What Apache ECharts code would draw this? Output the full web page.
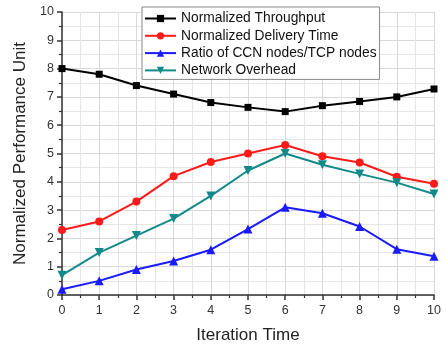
<!DOCTYPE html>
<html><head><meta charset="utf-8">
<script src="https://cdn.jsdelivr.net/npm/echarts@6/dist/echarts.min.js"></script>
<style>html,body{margin:0;padding:0;background:#fff}#c{width:446px;height:349px}</style>
</head><body><div id="c"></div>
<script>
var categories = [0,1,2,3,4,5,6,7,8,9,10];
var throughput = [8.0,7.8,7.4,7.1,6.8,6.63,6.48,6.69,6.84,7.0,7.28];
var deliveryTime = [2.3,2.6,3.3,4.2,4.7,5.0,5.3,4.9,4.68,4.18,3.93];
var ratioCCN = [0.2,0.5,0.9,1.2,1.6,2.33,3.1,2.89,2.42,1.62,1.37];
var overhead = [0.7,1.5,2.1,2.7,3.5,4.4,5.0,4.6,4.28,3.97,3.57];
var seriesNames = ['Normalized Throughput','Normalized Delivery Time','Ratio of CCN nodes/TCP nodes','Network Overhead'];

function pairs(arr){ return categories.map(function(c,i){ return [c, arr[i]]; }); }
var chart = echarts.init(document.getElementById('c'), null, {renderer:'canvas'});
var font = 'Arial, "Liberation Sans", sans-serif';
var axisCol = '#333';
function mk(name, data, color, symbol, size, rot){
  return {name:name, type:'line', data:pairs(data), symbol:symbol, symbolSize:size, symbolRotate:rot||0,
    lineStyle:{color:color,width:2}, itemStyle:{color:color}, z:3};
}
chart.setOption({
  animation:false,
  backgroundColor:'#fff',
  grid:{left:62, right:12, top:12, bottom:52},
  legend:{
    left:142, top:7, orient:'vertical', itemWidth:31, itemHeight:9, itemGap:3.3,
    backgroundColor:'#fff', borderColor:'#888', borderWidth:1, padding:[4.5,3,2,2],
    textStyle:{fontFamily:font, fontSize:13.8, lineHeight:14, color:'#111'},
    data:seriesNames
  },
  xAxis:{
    type:'value', min:0, max:10, interval:1,
    axisLine:{show:true, onZero:false, lineStyle:{color:axisCol,width:1.5}},
    axisTick:{show:true, inside:false, length:5, lineStyle:{color:axisCol,width:1.5}},
    minorTick:{show:true, splitNumber:2, length:3, lineStyle:{color:axisCol,width:1.2}},
    axisLabel:{fontFamily:font, fontSize:12.5, color:'#333', margin:9},
    splitLine:{show:true, lineStyle:{color:'#d9d9d9',width:1}},
    minorSplitLine:{show:true, lineStyle:{color:'#e6e6e6',width:1}},
    name:'Iteration Time', nameLocation:'middle', nameGap:32,
    nameTextStyle:{fontFamily:font, fontSize:17, color:'#222'}
  },
  yAxis:{
    type:'value', min:0, max:10, interval:1,
    axisLine:{show:true, onZero:false, lineStyle:{color:axisCol,width:1.5}},
    axisTick:{show:true, inside:false, length:5, lineStyle:{color:axisCol,width:1.5}},
    minorTick:{show:true, splitNumber:2, length:3, lineStyle:{color:axisCol,width:1.2}},
    axisLabel:{fontFamily:font, fontSize:12.5, color:'#333', margin:8},
    splitLine:{show:true, lineStyle:{color:'#d9d9d9',width:1}},
    minorSplitLine:{show:true, lineStyle:{color:'#e6e6e6',width:1}},
    name:'Normalized Performance Unit', nameLocation:'middle', nameGap:31,
    nameTextStyle:{fontFamily:font, fontSize:17, color:'#222'}
  },
  series:[
    mk(seriesNames[0], throughput, '#000000', 'rect', 7),
    mk(seriesNames[1], deliveryTime, '#ff1a1a', 'circle', 8),
    mk(seriesNames[2], ratioCCN, '#1a1aff', 'triangle', 9),
    mk(seriesNames[3], overhead, '#138a8a', 'triangle', 9, 180)
  ]
});
</script></body></html>
